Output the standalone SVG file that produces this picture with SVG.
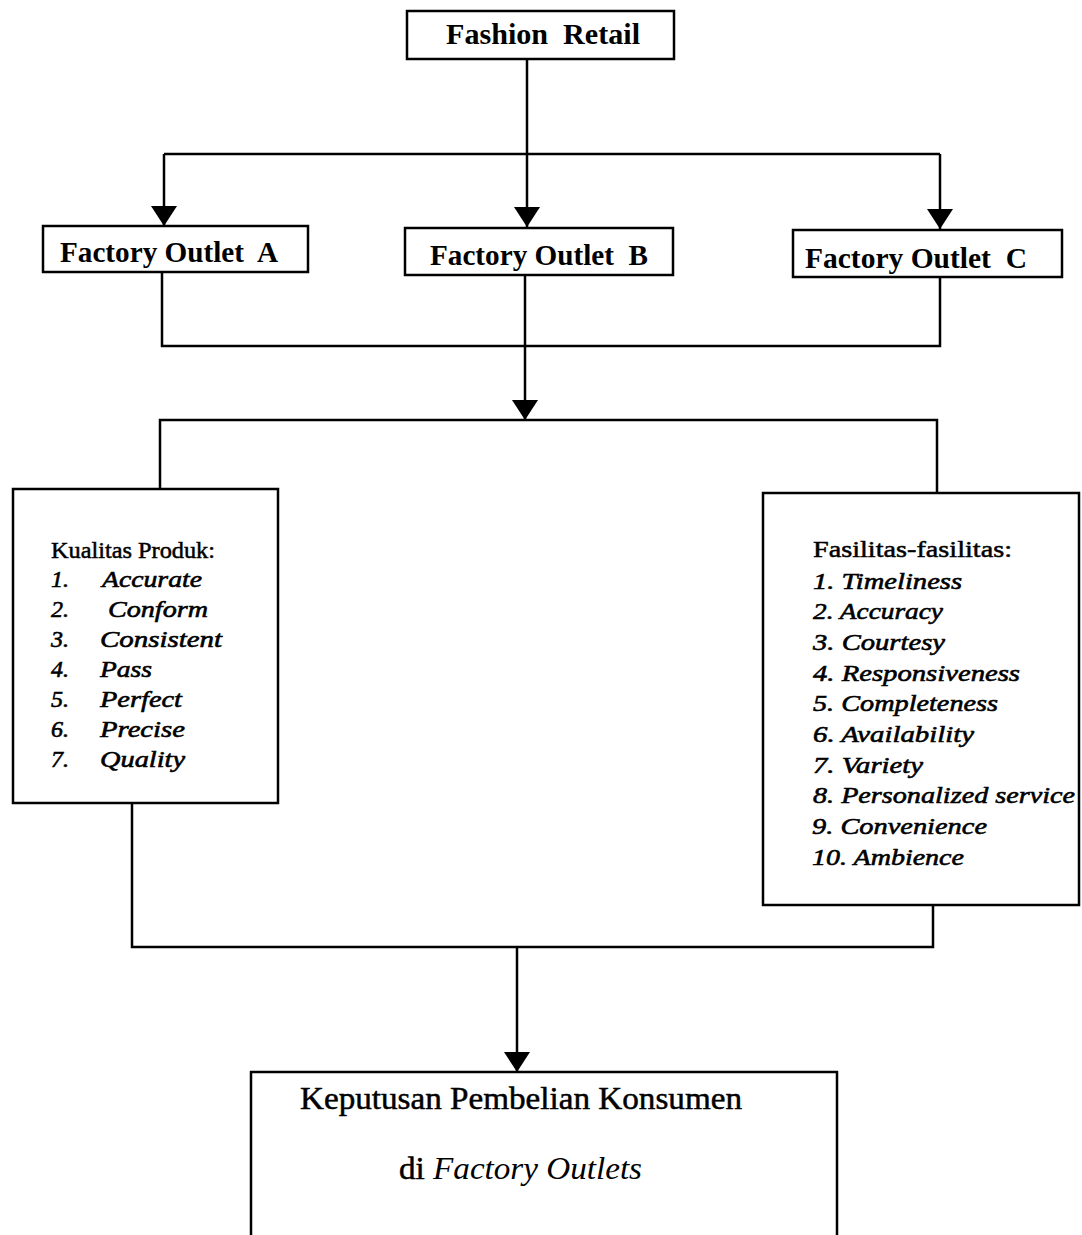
<svg xmlns="http://www.w3.org/2000/svg" width="1082" height="1235" viewBox="0 0 1082 1235">
<style>
.box{fill:#fff;stroke:#000;stroke-width:2.5}
.ln{fill:none;stroke:#000;stroke-width:2.5}
.t{font-family:"Liberation Serif","Times New Roman",serif;fill:#000}
.b{font-weight:bold}
.r{stroke:#000;stroke-width:0.5}
.i{font-style:italic;stroke:#000;stroke-width:0.6}
</style>
<defs>
<marker id="ah" markerUnits="userSpaceOnUse" markerWidth="20" markerHeight="26" refX="20" refY="13" orient="auto" viewBox="0 0 20 26">
<path d="M0,0 L20,13 L0,26 z" fill="#000"/>
</marker>
</defs>
<rect width="1082" height="1235" fill="#fff"/>
<g id="connectors">
<path class="ln" d="M527,59 V227" marker-end="url(#ah)"/>
<path class="ln" d="M164,154 H940"/>
<path class="ln" d="M164,154 V226" marker-end="url(#ah)"/>
<path class="ln" d="M940,154 V229" marker-end="url(#ah)"/>
<path class="ln" d="M162,272 V346 H940 V277"/>
<path class="ln" d="M525,275 V420" marker-end="url(#ah)"/>
<path class="ln" d="M160,489 V420 H937 V493"/>
<path class="ln" d="M132,803 V947 H933 V905"/>
<path class="ln" d="M517,947 V1072" marker-end="url(#ah)"/>
</g>
<g id="fashion-retail">
<rect class="box" x="407" y="11" width="267" height="48"/>
<text class="t b" x="446" y="44" font-size="29" textLength="194" lengthAdjust="spacingAndGlyphs">Fashion&#160; Retail</text>
</g>
<g id="outlet-a">
<rect class="box" x="43" y="226" width="265" height="46"/>
<text class="t b" x="60" y="262" font-size="30" textLength="218" lengthAdjust="spacingAndGlyphs">Factory Outlet&#160; A</text>
</g>
<g id="outlet-b">
<rect class="box" x="405" y="228" width="268" height="47"/>
<text class="t b" x="430" y="265" font-size="30" textLength="218" lengthAdjust="spacingAndGlyphs">Factory Outlet&#160; B</text>
</g>
<g id="outlet-c">
<rect class="box" x="793" y="230" width="269" height="47"/>
<text class="t b" x="805" y="268" font-size="30" textLength="222" lengthAdjust="spacingAndGlyphs">Factory Outlet&#160; C</text>
</g>
<g id="kualitas-produk">
<rect class="box" x="13" y="489" width="265" height="314"/>
<text class="t r" x="51" y="558" font-size="24" textLength="164" lengthAdjust="spacingAndGlyphs">Kualitas Produk:</text>
<g class="t i" font-size="24">
<text x="51" y="587">1.</text><text x="102" y="587" textLength="100" lengthAdjust="spacingAndGlyphs">Accurate</text>
<text x="51" y="617">2.</text><text x="108" y="617" textLength="100" lengthAdjust="spacingAndGlyphs">Conform</text>
<text x="51" y="647">3.</text><text x="100" y="647" textLength="122" lengthAdjust="spacingAndGlyphs">Consistent</text>
<text x="51" y="677">4.</text><text x="100" y="677" textLength="52" lengthAdjust="spacingAndGlyphs">Pass</text>
<text x="51" y="707">5.</text><text x="100" y="707" textLength="82" lengthAdjust="spacingAndGlyphs">Perfect</text>
<text x="51" y="737">6.</text><text x="100" y="737" textLength="85" lengthAdjust="spacingAndGlyphs">Precise</text>
<text x="51" y="767">7.</text><text x="100" y="767" textLength="85" lengthAdjust="spacingAndGlyphs">Quality</text>
</g>
</g>
<g id="fasilitas">
<rect class="box" x="763" y="493" width="316" height="412"/>
<text class="t r" x="813" y="557" font-size="24" textLength="199" lengthAdjust="spacingAndGlyphs">Fasilitas-fasilitas:</text>
<g class="t i" font-size="24">
<text x="813" y="589" textLength="149" lengthAdjust="spacingAndGlyphs">1. Timeliness</text>
<text x="813" y="619" textLength="130" lengthAdjust="spacingAndGlyphs">2. Accuracy</text>
<text x="813" y="650" textLength="132" lengthAdjust="spacingAndGlyphs">3. Courtesy</text>
<text x="813" y="681" textLength="207" lengthAdjust="spacingAndGlyphs">4. Responsiveness</text>
<text x="813" y="711" textLength="185" lengthAdjust="spacingAndGlyphs">5. Completeness</text>
<text x="813" y="742" textLength="161" lengthAdjust="spacingAndGlyphs">6. Availability</text>
<text x="813" y="773" textLength="110" lengthAdjust="spacingAndGlyphs">7. Variety</text>
<text x="813" y="803" textLength="262" lengthAdjust="spacingAndGlyphs">8. Personalized service</text>
<text x="812" y="834" textLength="175" lengthAdjust="spacingAndGlyphs">9. Convenience</text>
<text x="812" y="865" textLength="152" lengthAdjust="spacingAndGlyphs">10. Ambience</text>
</g>
</g>
<g id="keputusan">
<path class="box" d="M251,1240 V1072 H837 V1240"/>
<text class="t r" x="300" y="1109" font-size="32" textLength="442" lengthAdjust="spacingAndGlyphs">Keputusan Pembelian Konsumen</text>
<text class="t" x="399" y="1179" font-size="32" textLength="243" lengthAdjust="spacingAndGlyphs"><tspan class="r">di </tspan><tspan font-style="italic">Factory Outlets</tspan></text>
</g>
</svg>
